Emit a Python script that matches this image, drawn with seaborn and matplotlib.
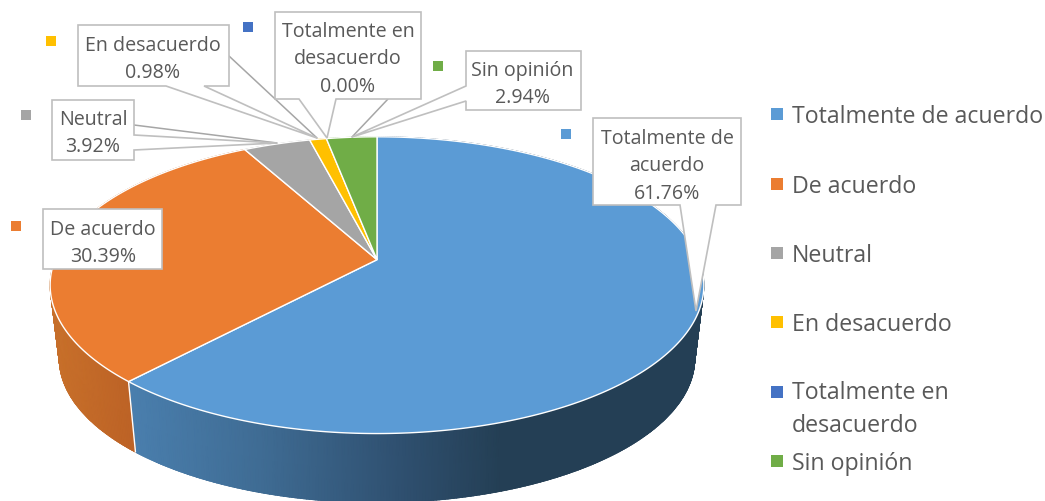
import matplotlib
matplotlib.use("Agg")
import matplotlib.pyplot as plt
import numpy as np
import pandas as pd
import seaborn as sns

# data
categorias = ["Totalmente de acuerdo", "De acuerdo", "Neutral", "En desacuerdo",
              "Totalmente en desacuerdo", "Sin opinión"]
porcentajes = [61.76, 30.39, 3.92, 0.98, 0.00, 2.94]
textos_caja = ["Totalmente de\nacuerdo", "De acuerdo", "Neutral", "En desacuerdo",
               "Totalmente en\ndesacuerdo", "Sin opinión"]
textos_leyenda = ["Totalmente de acuerdo", "De acuerdo", "Neutral", "En desacuerdo",
                  "Totalmente en\ndesacuerdo", "Sin opinión"]

sns.set_theme(style="white")
plt.rcParams["font.family"] = ["Open Sans", "DejaVu Sans"]
GRIS_TEXTO = "#595959"
GRIS_BORDE = "#bfbfbf"
colores = sns.color_palette(["#5B9BD5", "#EB7D31", "#A5A5A5", "#FFC000", "#4472C4", "#70AD47"])

df = pd.DataFrame({"categoria": categorias, "pct": porcentajes,
                   "caja": textos_caja, "leyenda": textos_leyenda})
df["fin"] = df["pct"].cumsum() / df["pct"].sum() * 2 * np.pi
df["ini"] = df["fin"].shift(1, fill_value=0.0)

# proyeccion en perspectiva del disco (pixeles de la imagen)
CX, K = 377.0, 0.1717
CY_SUP = 260.7


def rim(theta, cy, a, b):
    u, v = np.sin(theta), -np.cos(theta)
    d = 1 - K * v
    return CX + a * u / d, cy + b * v / d


def rim_sup(theta):
    return rim(theta, CY_SUP, 322.0, 144.0)


def rim_inf(theta):
    return rim(theta, 334.5, 313.0, 140.0)


# sombreado del lateral, segun x
def color_lateral(i, x):
    if i == 0:
        xs = [130, 260, 400, 500]
        rgb = ["#4a7fae", "#3f6c94", "#2f5070", "#243f55"]
    elif i == 1:
        xs = [55, 130]
        rgb = ["#c8702a", "#bd6326"]
    else:
        xs = [0, 1]
        rgb = [colores[i], colores[i]]
    arr = np.array([matplotlib.colors.to_rgb(c) for c in rgb])
    return np.stack([np.interp(x, xs, arr[:, j]) for j in range(3)], axis=-1)


fig = plt.figure(figsize=(10.45, 5.02), dpi=100)
ax = fig.add_axes([0, 0, 1, 1])
ax.set_xlim(0, 1045)
ax.set_ylim(502, 0)
ax.axis("off")

# lateral
for i, fila in df.iterrows():
    if fila["pct"] == 0:
        continue
    ts = np.linspace(fila["ini"], fila["fin"], max(int(fila["pct"] * 8), 3))
    xa, ya = rim_sup(ts)
    xb, yb = rim_inf(ts)
    X = np.vstack([xa, xb])
    Y = np.vstack([ya, yb])
    ax.pcolormesh(X, Y, color_lateral(i, X), shading="gouraud", zorder=1)
    # borde suave del canto inferior
    for k in range(len(ts) - 1):
        ax.plot(xb[k:k + 2], yb[k:k + 2], color=color_lateral(i, xb[k]), lw=0.8, zorder=1)

# separacion blanca en el lateral
xs_, ys_ = rim_sup(df["fin"][0])
xi_, yi_ = rim_inf(df["fin"][0])
ax.plot([xs_, xi_], [ys_, yi_], color="white", lw=1, zorder=2)

# cara superior
for i, fila in df.iterrows():
    if fila["pct"] == 0:
        continue
    ts = np.linspace(fila["ini"], fila["fin"], max(int(fila["pct"] * 8), 8))
    x, y = rim_sup(ts)
    ax.fill(np.r_[CX, x], np.r_[CY_SUP, y], facecolor=colores[i], edgecolor="white", lw=1.0, zorder=3)

# cajas con su llamada: contorno (poligono) y lineas guia sueltas
contornos = [
    [(593, 119), (741, 119), (741, 206), (716, 206), (696, 312), (680, 206), (593, 206)],
    [(43, 210), (162, 210), (162, 270), (43, 270)],
    [(52, 101), (134, 101), (134, 136), (277, 144), (134, 151), (134, 161), (52, 161)],
    [(78, 26), (229, 26), (229, 87), (204, 87), (317, 139), (166, 87), (78, 87)],
    [(275, 13), (421, 13), (421, 100), (336, 100), (327, 139), (299, 100), (275, 100)],
    [(466, 52), (581, 52), (581, 111), (466, 111), (466, 102), (352, 138), (466, 87)],
]
guias = [
    [(134, 126), (277, 144)],
    [(229, 57), (317, 139)],
    [(388, 100), (352, 138)],
]
centros = [(667, 166.5), (103, 243.5), (93, 133.5), (153, 59.5), (348, 59.5), (522, 84.5)]
cuadros = [(566, 135), (16, 227), (26, 116), (51, 42), (248, 28), (438, 67)]

for g in guias:
    ax.plot(*zip(*g), color="#a6a6a6", lw=1.1, zorder=4)
for i, fila in df.iterrows():
    px, py = zip(*contornos[i])
    ax.fill(px, py, facecolor="white", edgecolor=GRIS_BORDE, lw=1.2, zorder=5)
    ax.text(centros[i][0], centros[i][1], f"{fila['caja']}\n{fila['pct']:.2f}%", ha="center", va="center",
            color=GRIS_TEXTO, fontsize=14.1, linespacing=1.5, zorder=6)
    ax.scatter(*cuadros[i], marker="s", s=48, color=colores[i], linewidths=0, zorder=6)

# leyenda
y_leyenda = [115, 185, 254, 323, 393, 462]
y_texto = [117, 187, 256, 325, 410, 464]
for i, fila in df.iterrows():
    ax.scatter(777, y_leyenda[i], marker="s", s=65, color=colores[i], linewidths=0, zorder=6)
    ax.text(792, y_texto[i], fila["leyenda"], ha="left", va="center", color=GRIS_TEXTO,
            fontsize=16.7, linespacing=1.5, zorder=6)

fig.savefig("out.png", dpi=100)
